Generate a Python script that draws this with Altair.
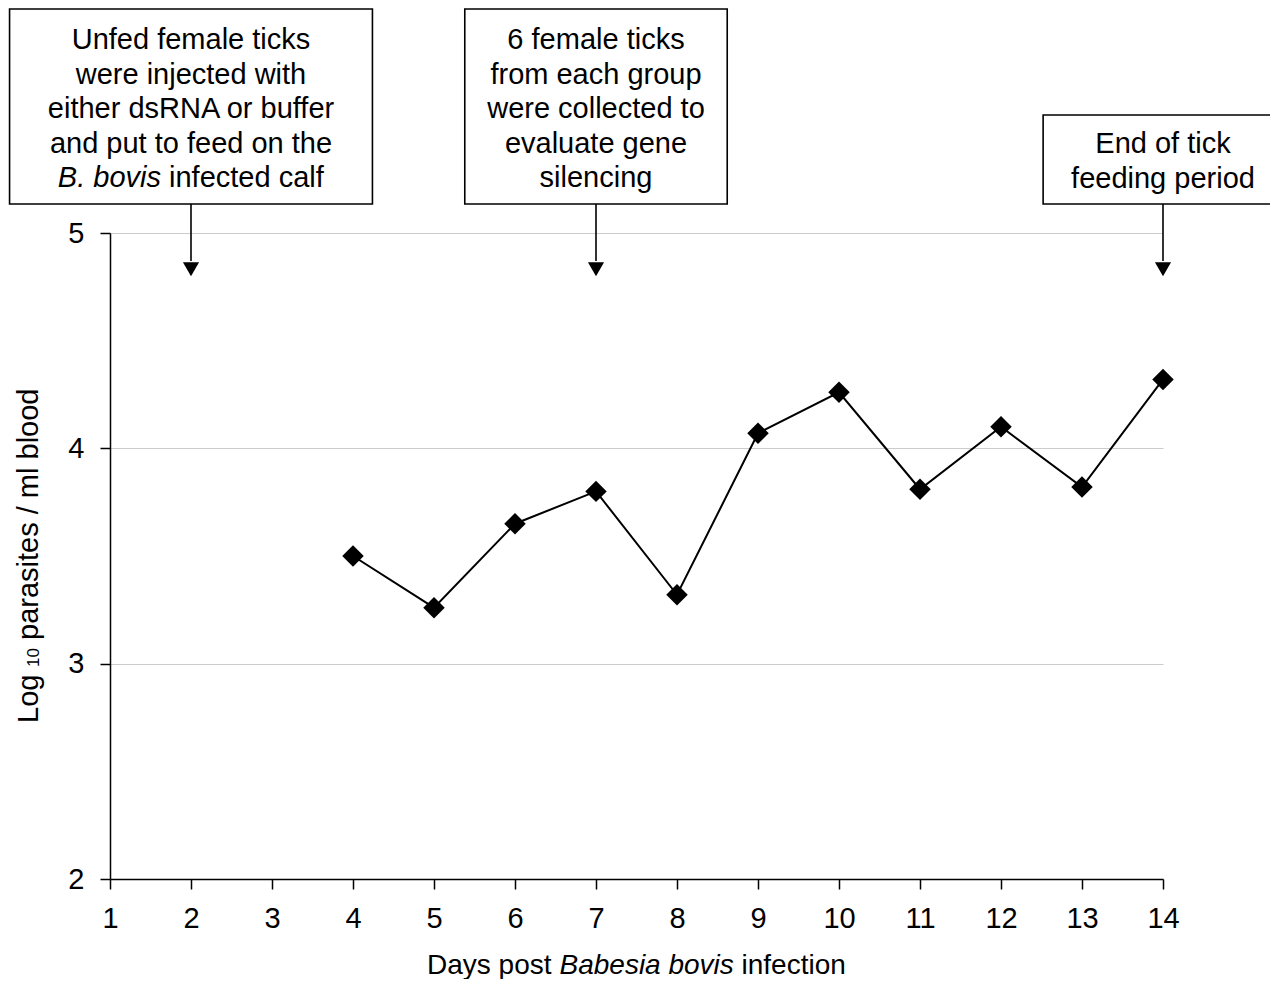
import altair as alt
import pandas as pd

# ---- data ----
days = [4, 5, 6, 7, 8, 9, 10, 11, 12, 13, 14]
log_parasites = [3.50, 3.26, 3.65, 3.80, 3.32, 4.07, 4.26, 3.81, 4.10, 3.82, 4.32]

x_ticks = list(range(1, 15))
y_ticks = [2, 3, 4, 5]

event_days = [2, 7, 14]
event_lines = [
    ["Unfed female ticks", "were injected with", "either dsRNA or buffer", "and put to feed on the"],
    ["6 female ticks", "from each group", "were collected to", "evaluate gene", "silencing"],
    ["End of tick", "feeding period"],
]
box1_last_italic = "B. bovis"
box1_last_rest = "infected calf"

x_title_parts = ["Days post", "Babesia bovis", "infection"]
y_title_parts = ["Log", "10", "parasites / ml blood"]

# ---- layout ----
FONT = "Liberation Sans"
W, H = 1053, 646
xs = alt.Scale(domain=[1, 14], nice=False, zero=False)
ys = alt.Scale(domain=[2, 5], nice=False, zero=False)

df = pd.DataFrame({"day": days, "value": log_parasites})

base = alt.Chart(df).encode(
    x=alt.X("day:Q", scale=xs,
            axis=alt.Axis(values=x_ticks, grid=False, title=None, tickSize=10,
                          labelPadding=15, format="d", labelFlush=False, labelOverlap=False)),
    y=alt.Y("value:Q", scale=ys,
            axis=alt.Axis(values=y_ticks, grid=True, title=None, tickSize=10,
                          labelPadding=16, format="d", labelFlush=False)),
)
line = base.mark_line(color="black", strokeWidth=2)
points = base.mark_point(shape="diamond", filled=True, size=460, color="black", opacity=1)

# annotation boxes (data coordinates)
box_df = pd.DataFrame({
    "x1": [2 - 2.24, 7 - 1.62, 14 - 1.48],
    "x2": [2 + 2.24, 7 + 1.62, 14 + 1.95],
    "y1": [6.04, 6.04, 5.548],
    "y2": [5.135, 5.135, 5.135],
})
boxes = alt.Chart(box_df).mark_rect(fill="white", stroke="black", strokeWidth=1.6).encode(
    x=alt.X("x1:Q", scale=xs), x2="x2:Q",
    y=alt.Y("y1:Q", scale=ys), y2="y2:Q",
)

arrow_df = pd.DataFrame({"day": event_days, "top": [5.135] * 3, "bot": [4.87] * 3, "head": [4.832] * 3})
arrows = alt.Chart(arrow_df).mark_rule(color="black", strokeWidth=1.6).encode(
    x=alt.X("day:Q", scale=xs), y=alt.Y("top:Q", scale=ys), y2="bot:Q")
heads = alt.Chart(arrow_df).mark_point(shape="triangle-down", filled=True, size=260,
                                       color="black", opacity=1).encode(
    x=alt.X("day:Q", scale=xs), y=alt.Y("head:Q", scale=ys))

layers = [boxes, arrows, heads, line, points]

first_line_y = [-193, -193, -89]
for d, lines, y0 in zip(event_days, event_lines, first_line_y):
    layers.append(
        alt.Chart(pd.DataFrame({"day": [d]})).mark_text(
            text=lines, lineHeight=34.6, baseline="middle", align="center",
            font=FONT, fontSize=29, color="black"
        ).encode(x=alt.X("day:Q", scale=xs), y=alt.value(y0))
    )

d0 = pd.DataFrame({"day": [event_days[0]]})
layers.append(alt.Chart(d0).mark_text(text=box1_last_italic, align="right", baseline="middle",
                                      dx=-30, font=FONT, fontSize=29, fontStyle="italic",
                                      color="black").encode(x=alt.X("day:Q", scale=xs), y=alt.value(-55)))
layers.append(alt.Chart(d0).mark_text(text=box1_last_rest, align="left", baseline="middle",
                                      dx=-22, font=FONT, fontSize=29,
                                      color="black").encode(x=alt.X("day:Q", scale=xs), y=alt.value(-55)))

# x axis title in three parts
mid = pd.DataFrame({"day": [7.5]})
xt_y = 733
for txt, al, dx, style in [(x_title_parts[0], "right", -85, "normal"),
                           (x_title_parts[1], "left", -77, "italic"),
                           (x_title_parts[2], "left", 105, "normal")]:
    layers.append(alt.Chart(mid).mark_text(text=txt, align=al, baseline="middle", dx=dx,
                                           font=FONT, fontSize=28, fontStyle=style,
                                           color="black").encode(x=alt.X("day:Q", scale=xs),
                                                                 y=alt.value(xt_y)))

# y axis title in three parts (rotated)
for txt, yv, fs, xv in [(y_title_parts[0], 490, 29, -72),
                        (y_title_parts[1], 434, 17, -71),
                        (y_title_parts[2], 407, 29, -72)]:
    layers.append(alt.Chart(mid).mark_text(text=txt, align="left", baseline="alphabetic", angle=270,
                                           font=FONT, fontSize=fs, color="black").encode(
        x=alt.value(xv), y=alt.value(yv)))

chart = alt.layer(*layers).properties(
    width=W, height=H,
    autosize=alt.AutoSizeParams(type="none"),
    padding={"left": 102, "top": 225, "right": 107, "bottom": 100},
).configure_view(stroke=None).configure_axis(
    labelFont=FONT, labelFontSize=29, labelColor="black",
    domainColor="black", domainWidth=1.5, tickColor="black", tickWidth=1.5,
    gridColor="#cccccc", gridWidth=1,
)

chart.save("out.html", embed_options={"renderer": "svg", "actions": False})
